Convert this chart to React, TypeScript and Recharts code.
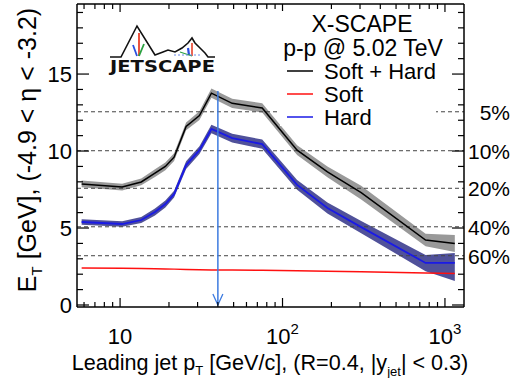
import { ComposedChart, XAxis, YAxis, Line, Area, Scatter, ReferenceLine } from "recharts";

// leading-jet pT bins [GeV/c]
const ptBins = [5.8, 10.3, 13.5, 16.4, 19, 21.5, 25.5, 30.8, 36.5, 49, 75, 123, 189, 305, 760, 1150];
// E_T in the forward region [GeV]
const softHard = [7.86, 7.66, 7.99, 8.57, 9.0, 9.6, 11.6, 12.3, 13.76, 13.1, 12.8, 10.06, 8.64, 7.3, 4.22, 4.0];
const softHardErr = [0.22, 0.22, 0.22, 0.25, 0.25, 0.25, 0.25, 0.28, 0.3, 0.3, 0.3, 0.32, 0.35, 0.45, 0.4, 0.55];
const hard = [5.39, 5.26, 5.52, 6.04, 6.56, 7.2, 9.09, 10.06, 11.43, 10.84, 10.45, 7.8, 6.3, 5.06, 2.73, 2.73];
const hardErrUp = [0.18, 0.18, 0.2, 0.22, 0.22, 0.22, 0.25, 0.25, 0.28, 0.28, 0.3, 0.32, 0.35, 0.4, 0.52, 0.65];
const hardErrDown = [0.18, 0.18, 0.2, 0.22, 0.22, 0.22, 0.25, 0.25, 0.28, 0.28, 0.3, 0.32, 0.35, 0.4, 0.53, 1.17];
const soft = [2.4, 2.39, 2.37, 2.36, 2.34, 2.33, 2.31, 2.29, 2.28, 2.27, 2.25, 2.23, 2.2, 2.16, 2.08, 2.05];

// centrality classes of the forward E_T
const centralityLabels = ["5%", "10%", "20%", "40%", "60%"];
const centralityEt = [12.55, 10.02, 7.58, 5.08, 3.2];

// marker for the selected jet pT
const arrowPt = 40;
const arrowTop = 13.9;

const xTicks = [6, 7, 8, 9, 10, 20, 30, 40, 50, 60, 70, 80, 90, 100, 200, 300, 400, 500, 600, 700, 800, 900, 1000];
const xMajor = [10, 100, 1000];
const xTickLabels = ["10", "10", "10"];
const xTickExp = ["", "2", "3"];
const yTicks = [0, 1, 2, 3, 4, 5, 6, 7, 8, 9, 10, 11, 12, 13, 14, 15, 16, 17, 18, 19];
const yMajor = [0, 5, 10, 15];

const rows = ptBins.map((pt, i) => ({
  pt,
  softHard: softHard[i],
  hard: hard[i],
  soft: soft[i],
  shBand: [softHard[i] - softHardErr[i], softHard[i] + softHardErr[i]],
  hardBand: [hard[i] - hardErrDown[i], hard[i] + hardErrUp[i]],
}));

const FONT = '"Liberation Sans", Arial, Helvetica, sans-serif';

function BottomTick({ x, y, payload }: any) {
  const v = payload.value;
  const k = xMajor.indexOf(v);
  return (
    <g>
      <line x1={x} x2={x} y1={y} y2={y - (k >= 0 ? 9 : 5)} stroke="#000" strokeWidth={1.2} />
      {k >= 0 && (
        <text x={x} y={y + 37} textAnchor="middle" fontSize={22} fill="#000" fontFamily={FONT}>
          {xTickLabels[k]}
          {xTickExp[k] && (
            <tspan dy={-10} fontSize={15}>
              {xTickExp[k]}
            </tspan>
          )}
        </text>
      )}
    </g>
  );
}

function TopTick({ x, y, payload }: any) {
  const major = xMajor.includes(payload.value);
  return <line x1={x} x2={x} y1={y} y2={y + (major ? 8 : 5)} stroke="#000" strokeWidth={1.2} />;
}

function LeftTick({ x, y, payload }: any) {
  const major = yMajor.includes(payload.value);
  return (
    <g>
      <line x1={x} x2={x + (major ? 12 : 6)} y1={y} y2={y} stroke="#000" strokeWidth={1.2} />
      {major && (
        <text x={x - 5} y={y + 8} textAnchor="end" fontSize={22} fill="#000" fontFamily={FONT}>
          {payload.value}
        </text>
      )}
    </g>
  );
}

function RightTick({ x, y, payload }: any) {
  const major = yMajor.includes(payload.value);
  return <line x1={x} x2={x - (major ? 12 : 6)} y1={y} y2={y} stroke="#000" strokeWidth={1.2} />;
}

function ArrowHead({ cx, cy }: any) {
  return (
    <path d={`M${cx - 5},${cy - 11} L${cx},${cy} L${cx + 5},${cy - 11}`} fill="none" stroke="#3d7be0" strokeWidth={1.3} />
  );
}

function pctLabel(text: string) {
  return (props: any) => {
    const vb = props.viewBox || {};
    return (
      <text x={vb.x + vb.width + 46} y={vb.y + 8} textAnchor="end" fontSize={21} fill="#000" fontFamily={FONT}>
        {text}
      </text>
    );
  };
}

function Logo() {
  return (
    <g>
      <polyline
        points="110,57 121,57 137,26 155,55 163,52 168,50 175,52 182,48 188,43 192,38 195,43 200,48 205,53 208,57 215,57"
        fill="none"
        stroke="#111"
        strokeWidth={1.6}
      />
      <line x1={139} y1={33} x2={139} y2={56} stroke="#e8402a" strokeWidth={1.8} />
      <line x1={133} y1={45} x2={137} y2={56} stroke="#2a4fe0" strokeWidth={1.8} />
      <line x1={144} y1={44} x2={139} y2={56} stroke="#2aa040" strokeWidth={1.8} />
      <line x1={192} y1={43} x2={192} y2={56} stroke="#e8402a" strokeWidth={1.6} />
      <line x1={188} y1={48} x2={189} y2={55} stroke="#2a4fe0" strokeWidth={2.2} />
      <line x1={180} y1={52} x2={192} y2={56} stroke="#2aa040" strokeWidth={1.3} />
      <line x1={174} y1={55} x2={200} y2={55} stroke="#6a8ae8" strokeWidth={1} strokeDasharray="2 2" />
      <text x={110} y={72} fontSize={15} fontWeight="bold" fontFamily='"DejaVu Sans", sans-serif' textLength={105} lengthAdjust="spacingAndGlyphs" fill="#111">
        JETSCAPE
      </text>
    </g>
  );
}

function Overlay() {
  return (
    <svg width={518} height={378} style={{ position: "absolute", left: 0, top: 0, pointerEvents: "none" }} fontFamily={FONT}>
      <Logo />
      <rect x={280} y={11} width={156} height={115} fill="#fff" />
      <text x={362} y={32} textAnchor="middle" fontSize={23}>X-SCAPE</text>
      <text x={363} y={56} textAnchor="middle" fontSize={23}>p-p @ 5.02 TeV</text>
      <line x1={287} x2={313} y1={71} y2={71} stroke="#000" strokeWidth={1.5} />
      <line x1={287} x2={313} y1={94} y2={94} stroke="#ff1010" strokeWidth={1.5} />
      <line x1={287} x2={313} y1={117} y2={117} stroke="#1a1ae6" strokeWidth={1.5} />
      <text x={324} y={79} fontSize={22}>Soft + Hard</text>
      <text x={324} y={102} fontSize={22}>Soft</text>
      <text x={324} y={125} fontSize={22}>Hard</text>
      <text transform="translate(36,150) rotate(-90)" textAnchor="middle" fontSize={25}>
        E<tspan dy={6} fontSize={15}>T</tspan>
        <tspan dy={-6}> [GeV],  (-4.9 &lt; η &lt; -3.2)</tspan>
      </text>
      <text x={270} y={370} textAnchor="middle" fontSize={21.6}>
        Leading jet p<tspan dy={5} fontSize={13}>T</tspan>
        <tspan dy={-5}> [GeV/c], (R=0.4, |y</tspan>
        <tspan dy={6} fontSize={13}>jet</tspan>
        <tspan dy={-6}>| &lt; 0.3)</tspan>
      </text>
    </svg>
  );
}

export default function App() {
  return (
    <div style={{ position: "relative", width: 518, height: 378, background: "#fff", fontFamily: FONT }}>
      <style>{"body{margin:0}"}</style>
      <ComposedChart width={518} height={378} data={rows} margin={{ top: 3, right: 53, bottom: 70, left: 76 }}>
        <XAxis
          dataKey="pt"
          type="number"
          scale="log"
          domain={[5.43, 1310]}
          allowDataOverflow
          ticks={xTicks}
          interval={0}
          height={1}
          tickSize={0}
          tickMargin={0}
          tickLine={false}
          tick={<BottomTick />}
          axisLine={{ stroke: "#000", strokeWidth: 1.5 }}
        />
        <XAxis
          xAxisId="top"
          orientation="top"
          dataKey="pt"
          type="number"
          scale="log"
          domain={[5.43, 1310]}
          allowDataOverflow
          ticks={xTicks}
          interval={0}
          height={1}
          tickSize={0}
          tickMargin={0}
          tickLine={false}
          tick={<TopTick />}
          axisLine={{ stroke: "#000", strokeWidth: 1.5 }}
        />
        <YAxis
          type="number"
          domain={[-0.13, 19.55]}
          allowDataOverflow
          ticks={yTicks}
          interval={0}
          width={1}
          tickSize={0}
          tickMargin={0}
          tickLine={false}
          tick={<LeftTick />}
          axisLine={{ stroke: "#000", strokeWidth: 1.5 }}
        />
        <YAxis
          yAxisId="right"
          orientation="right"
          type="number"
          domain={[-0.13, 19.55]}
          allowDataOverflow
          ticks={yTicks}
          interval={0}
          width={1}
          tickSize={0}
          tickMargin={0}
          tickLine={false}
          tick={<RightTick />}
          axisLine={{ stroke: "#000", strokeWidth: 1.5 }}
        />
        {centralityEt.map((et, i) => (
          <ReferenceLine key={i} y={et} stroke="#444" strokeDasharray="4 3" strokeWidth={1} label={pctLabel(centralityLabels[i])} />
        ))}
        <Line dataKey="soft" type="linear" stroke="#ff1010" strokeWidth={1.5} dot={false} isAnimationActive={false} />
        <Area dataKey="shBand" type="linear" stroke="none" fill="#999" fillOpacity={1} isAnimationActive={false} />
        <Area dataKey="hardBand" type="linear" stroke="none" fill="#50519a" fillOpacity={1} isAnimationActive={false} />
        <Line dataKey="softHard" type="linear" stroke="#000" strokeWidth={1.5} dot={false} isAnimationActive={false} />
        <Line dataKey="hard" type="linear" stroke="#1a1ae6" strokeWidth={1.8} dot={false} isAnimationActive={false} />
        <ReferenceLine
          segment={[
            { x: arrowPt, y: arrowTop },
            { x: arrowPt, y: 0 },
          ]}
          stroke="#3d7be0"
          strokeWidth={1.5}
        />
        <Scatter data={[{ pt: arrowPt, v: 0 }]} dataKey="v" shape={<ArrowHead />} isAnimationActive={false} />
      </ComposedChart>
      <Overlay />
    </div>
  );
}
